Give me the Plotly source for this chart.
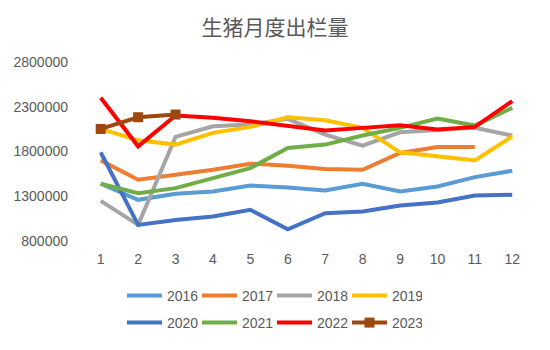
import plotly.graph_objects as go

months = list(range(1, 13))
month_labels = [str(m) for m in months]

y2016 = [1440000, 1260000, 1327000, 1353000, 1420000, 1398000, 1364000, 1439000, 1353000, 1409000, 1514000, 1585000]
y2017 = [1701000, 1484000, 1540000, 1596000, 1664000, 1641000, 1604000, 1596000, 1783000, 1850000, 1850000, None]
y2018 = [1249000, 980000, 1963000, 2082000, 2101000, 2165000, 1989000, 1866000, 2015000, 2034000, 2064000, 1978000]
y2019 = [2052000, 1925000, 1877000, 2008000, 2075000, 2183000, 2150000, 2064000, 1791000, 1746000, 1701000, 1970000]
y2020 = [1791000, 980000, 1035000, 1073000, 1148000, 931000, 1110000, 1129000, 1196000, 1230000, 1308000, 1316000]
y2021 = [1439000, 1335000, 1391000, 1503000, 1615000, 1839000, 1877000, 1978000, 2064000, 2168000, 2090000, 2288000]
y2022 = [2400000, 1858000, 2202000, 2176000, 2138000, 2090000, 2034000, 2064000, 2094000, 2045000, 2075000, 2363000]
y2023 = [2052000, 2183000, 2213000]

y_ticks = [800000, 1300000, 1800000, 2300000, 2800000]

series = [
    ("2016", y2016, "#5B9BD5", "legend"),
    ("2017", y2017, "#ED7D31", "legend"),
    ("2018", y2018, "#A5A5A5", "legend"),
    ("2019", y2019, "#FFC000", "legend"),
    ("2020", y2020, "#4472C4", "legend2"),
    ("2021", y2021, "#70AD47", "legend2"),
    ("2022", y2022, "#FF0000", "legend2"),
]

fig = go.Figure()
for name, ys, color, lg in series:
    fig.add_trace(go.Scatter(
        x=months[:len(ys)], y=ys, name=name, mode="lines",
        line=dict(color=color, width=4), legend=lg,
    ))
fig.add_trace(go.Scatter(
    x=months[:len(y2023)], y=y2023, name="2023", mode="lines+markers",
    line=dict(color="#9E480E", width=4),
    marker=dict(symbol="square", size=10, color="#9E480E"),
    legend="legend2",
))

font_main = "Liberation Sans, DejaVu Sans, sans-serif"
legend_common = dict(
    orientation="h", xref="container", yref="container",
    xanchor="left", yanchor="middle",
    font=dict(family=font_main, size=14, color="#595959"),
    bgcolor="rgba(0,0,0,0)", itemwidth=35, entrywidth=25,
    traceorder="normal",
)

fig.update_layout(
    width=550, height=350,
    paper_bgcolor="white", plot_bgcolor="white",
    margin=dict(l=82, r=19, t=62, b=109),
    title=dict(text="生猪月度出栏量", x=0.5, xanchor="center", y=1 - 28/350, yanchor="middle",
               font=dict(family="Noto Sans CJK SC", size=21, color="#595959")),
    xaxis=dict(range=[0.5, 12.5], tickvals=months, ticktext=month_labels,
               showgrid=False, zeroline=False, showline=False, ticks="",
               ticklabelstandoff=8,
               tickfont=dict(family=font_main, size=14, color="#595959")),
    yaxis=dict(range=[800000, 2800000], tickvals=y_ticks, tickformat="d",
               showgrid=False, zeroline=False, showline=False, ticks="",
               ticklabelstandoff=13,
               tickfont=dict(family=font_main, size=14, color="#595959")),
    legend=dict(x=122/550, y=1 - 296/350, **legend_common),
    legend2=dict(x=122/550, y=1 - 323/350, **legend_common),
    showlegend=True,
)

fig.write_html("out.html")
